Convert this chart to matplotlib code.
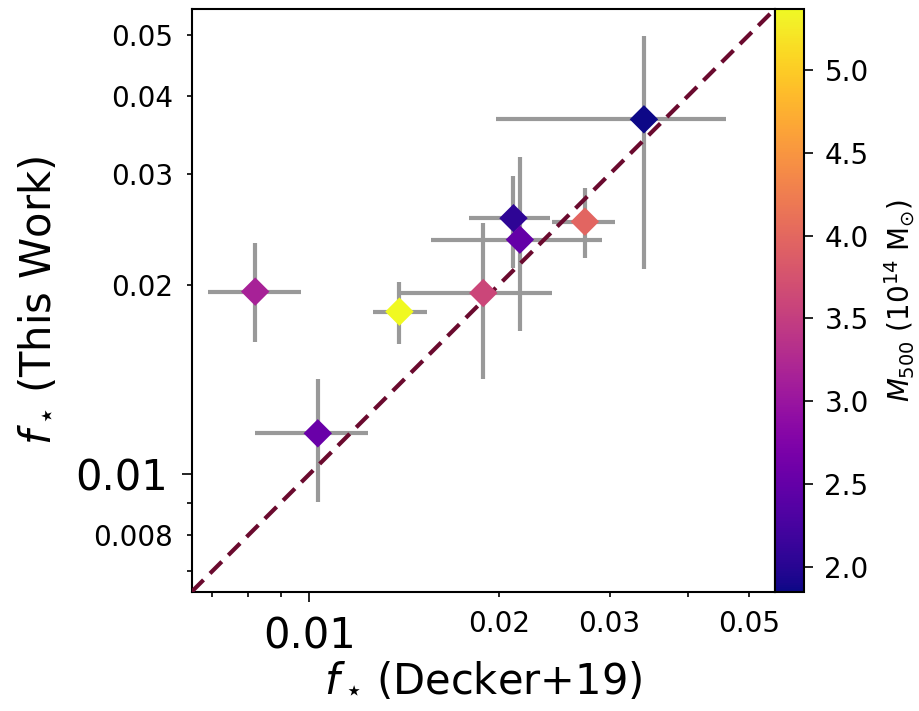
import numpy as np
import matplotlib
matplotlib.use("Agg")
import matplotlib.pyplot as plt
from matplotlib.colors import Normalize

# f_star from Decker+19 (x) and this work (y), with asymmetric errors
fx = [0.00820, 0.01031, 0.01390, 0.01889, 0.02110, 0.02160, 0.02740, 0.03401]
fx_lo = [0.00690, 0.00820, 0.01262, 0.01395, 0.01791, 0.01561, 0.02431, 0.01982]
fx_hi = [0.00969, 0.01238, 0.01539, 0.02427, 0.02414, 0.02920, 0.03060, 0.04593]
fy = [0.01951, 0.01161, 0.01813, 0.01941, 0.02553, 0.02360, 0.02521, 0.03667]
fy_lo = [0.01620, 0.00902, 0.01611, 0.01419, 0.02129, 0.01690, 0.02204, 0.02123]
fy_hi = [0.02331, 0.01415, 0.02021, 0.02511, 0.02978, 0.03198, 0.02847, 0.04969]
m500 = [3.15, 2.55, 5.37, 3.60, 2.05, 2.50, 3.97, 1.85]

lims = [0.0065, 0.055]
minor_ticks = [0.007, 0.008, 0.009, 0.02, 0.03, 0.04, 0.05]
xminor_labels = ['', '', '', '0.02', '0.03', '', '0.05']
yminor_labels = ['', '0.008', '', '0.02', '0.03', '0.04', '0.05']
cbar_ticks = [2.0, 2.5, 3.0, 3.5, 4.0, 4.5, 5.0]

fx = np.array(fx); fy = np.array(fy)
xerr = [fx - np.array(fx_lo), np.array(fx_hi) - fx]
yerr = [fy - np.array(fy_lo), np.array(fy_hi) - fy]

fig = plt.figure(figsize=(9.2, 7.11), dpi=100)
ax = fig.add_axes([0.2084, 0.1678, 0.6343, 0.8200])
cax = fig.add_axes([0.8424, 0.1678, 0.0318, 0.8200])

ax.plot(lims, lims, ls='--', color='#6a0a2e', lw=3, dashes=(4, 2.2), zorder=3)
ax.errorbar(fx, fy, xerr=xerr, yerr=yerr, fmt='none', ecolor='#999999',
            elinewidth=3, capsize=0, zorder=2)
norm = Normalize(vmin=min(m500), vmax=max(m500))
sc = ax.scatter(fx, fy, c=m500, cmap='plasma', norm=norm, marker='D', s=210,
                edgecolors='none', zorder=4)

ax.set_xscale('log')
ax.set_yscale('log')
ax.set_xlim(lims)
ax.set_ylim(lims)

ax.set_xticks([0.01])
ax.set_xticklabels(['0.01'], fontsize=30)
ax.set_yticks([0.01])
ax.set_yticklabels(['0.01'], fontsize=30)
ax.set_xticks(minor_ticks, minor=True)
ax.set_xticklabels(xminor_labels, minor=True, fontsize=20)
ax.set_yticks(minor_ticks, minor=True)
ax.set_yticklabels(yminor_labels, minor=True, fontsize=20)
ax.tick_params(which='major', length=7, width=1.2, pad=10)
ax.tick_params(which='minor', length=3.5, width=1.2, pad=10)
for s in ax.spines.values():
    s.set_linewidth(1.5)

ax.set_xlabel(r'$f_\star\,$(Decker+19)', fontsize=30, labelpad=2)
ax.set_ylabel(r'$f_\star\,$(This Work)', fontsize=30, labelpad=12)

cb = fig.colorbar(sc, cax=cax, ticks=cbar_ticks)
cb.ax.tick_params(labelsize=20, length=6.5, width=1.2, pad=8)
cb.outline.set_linewidth(1.5)
cb.set_label(r'$M_{500}$ ($10^{14}$ M$_{\odot}$)', fontsize=20, labelpad=10)

fig.savefig('out.png', dpi=100)
